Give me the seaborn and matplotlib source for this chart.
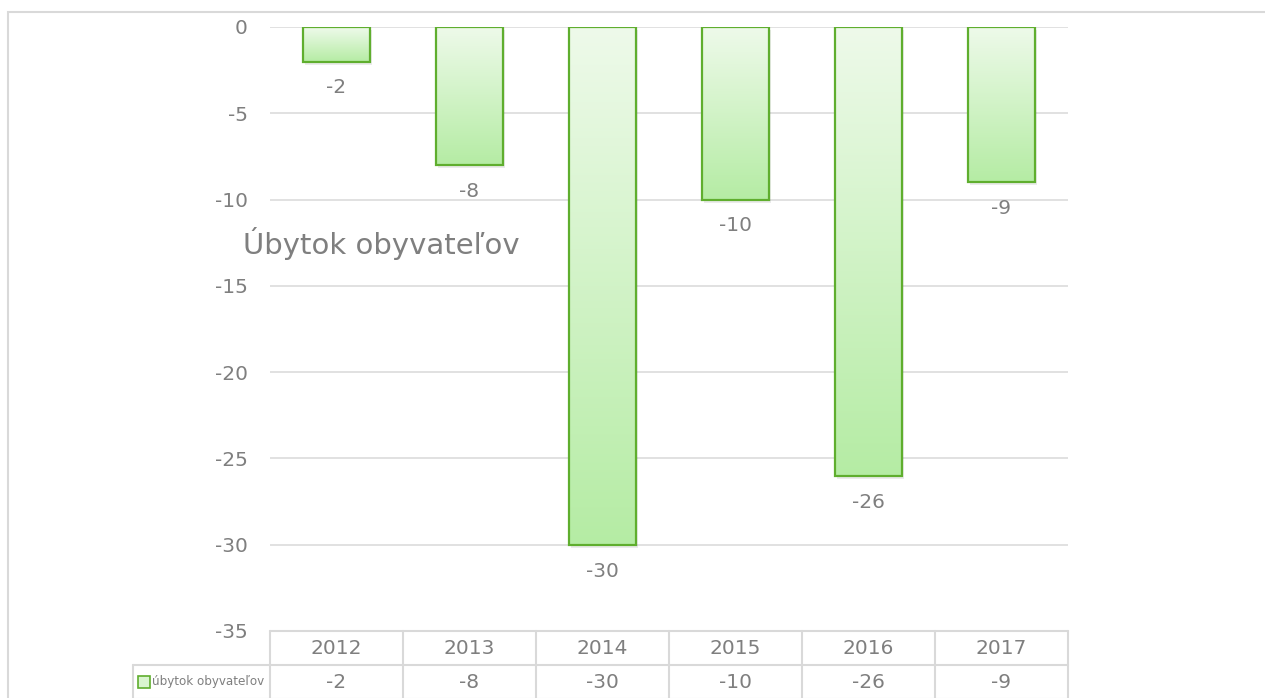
import numpy as np
import pandas as pd
import matplotlib
matplotlib.use("Agg")
import matplotlib.pyplot as plt
import matplotlib.transforms as mtransforms
from matplotlib.patches import Rectangle
from matplotlib.colors import LinearSegmentedColormap
import seaborn as sns

years = ["2012", "2013", "2014", "2015", "2016", "2017"]
values = [-2, -8, -30, -10, -26, -9]
series_name = "úbytok obyvateľov"
chart_title = "Úbytok obyvateľov"
yticks = [0, -5, -10, -15, -20, -25, -30, -35]

TEXT = "#7f7f7f"
GRID = "#d9d9d9"
EDGE = "#5fae2e"

sns.set_style("white")
plt.rcParams["font.family"] = ["DejaVu Sans"]

df = pd.DataFrame({"rok": years, "hodnota": values})

fig = plt.figure(figsize=(12.65, 6.98), dpi=100)
ax = fig.add_axes([270 / 1265, 1 - 631 / 698, 798 / 1265, 604 / 698])

sns.barplot(data=df, x="rok", y="hodnota", order=years, width=0.5,
            errorbar=None, color="#b5eca4", ax=ax, zorder=3)

ax.set_xlim(-0.5, len(years) - 0.5)
ax.set_ylim(-35, 0)
ax.set_yticks(yticks)
ax.set_yticklabels([str(t) for t in yticks], color=TEXT, fontsize=14.5)
ax.tick_params(axis="y", length=0, pad=16)
ax.set_xticks([])
ax.set_xlabel("")
ax.set_ylabel("")
for s in ax.spines.values():
    s.set_visible(False)
ax.grid(axis="y", color=GRID, linewidth=1.1, zorder=0)
ax.set_axisbelow(True)

# gradient fill per bar + soft shadow
cmap = LinearSegmentedColormap.from_list("g", ["#eefaea", "#b5eca4"])
grad = np.linspace(0, 1, 256).reshape(-1, 1)
shadow_tr = ax.transData + mtransforms.ScaledTranslation(2 / 100, -3 / 100, fig.dpi_scale_trans)
for p in ax.patches[:len(values)]:
    x0, y0 = p.get_x(), p.get_y()
    w, h = p.get_width(), p.get_height()
    top, bot = max(y0, y0 + h), min(y0, y0 + h)
    ax.add_patch(Rectangle((x0, y0), w, h, facecolor="#000000", alpha=0.08,
                           edgecolor="none", transform=shadow_tr, zorder=2))
    im = ax.imshow(grad, cmap=cmap, aspect="auto", extent=(x0, x0 + w, bot, top),
                   origin="upper", zorder=2.5)
    im.set_clip_path(p)
    p.set_facecolor("none")
    p.set_edgecolor(EDGE)
    p.set_linewidth(1.6)

ax.set_xlim(-0.5, len(years) - 0.5)
ax.set_ylim(-35, 0)

for i, v in enumerate(values):
    ax.annotate(str(v), xy=(i, v), xytext=(0, -19), textcoords="offset points",
                ha="center", va="center", color=TEXT, fontsize=14.5)

# data table under the plot
tr = ax.get_xaxis_transform()
rh = 34 / 604
left = -0.5 - 137 / 133
right = len(years) - 0.5
lkw = dict(color=GRID, linewidth=1.5, transform=tr, clip_on=False)
ax.plot([-0.5, right], [0, 0], **lkw)
ax.plot([left, right], [-rh, -rh], **lkw)
ax.plot([left, right], [-2 * rh, -2 * rh], **lkw)
for b in np.arange(-0.5, len(years), 1.0):
    ax.plot([b, b], [0, -2 * rh], **lkw)
ax.plot([left, left], [-rh, -2 * rh], **lkw)

for i, (yr, v) in enumerate(zip(years, values)):
    ax.text(i, -rh / 2, yr, transform=tr, ha="center", va="center",
            color=TEXT, fontsize=14.5)
    ax.text(i, -1.5 * rh, str(v), transform=tr, ha="center", va="center",
            color=TEXT, fontsize=14.5)

ax.plot([left + 0.08], [-1.5 * rh], marker="s", markersize=8,
        markerfacecolor="#d9f5cf", markeredgecolor=EDGE, markeredgewidth=1.2,
        transform=tr, clip_on=False)
ax.text(left + 0.145, -1.5 * rh, series_name, transform=tr, ha="left",
        va="center", color=TEXT, fontsize=9.5, fontstretch="condensed")

fig.text(243 / 1265, 1 - 243 / 698, chart_title, ha="left", va="center",
         color=TEXT, fontsize=21)

fig.patches.append(Rectangle((8 / 1265, -0.02), 1.0, 1 - 12 / 698 + 0.02,
                             transform=fig.transFigure, fill=False,
                             edgecolor=GRID, linewidth=1.5))

fig.savefig("out.png", dpi=100)
